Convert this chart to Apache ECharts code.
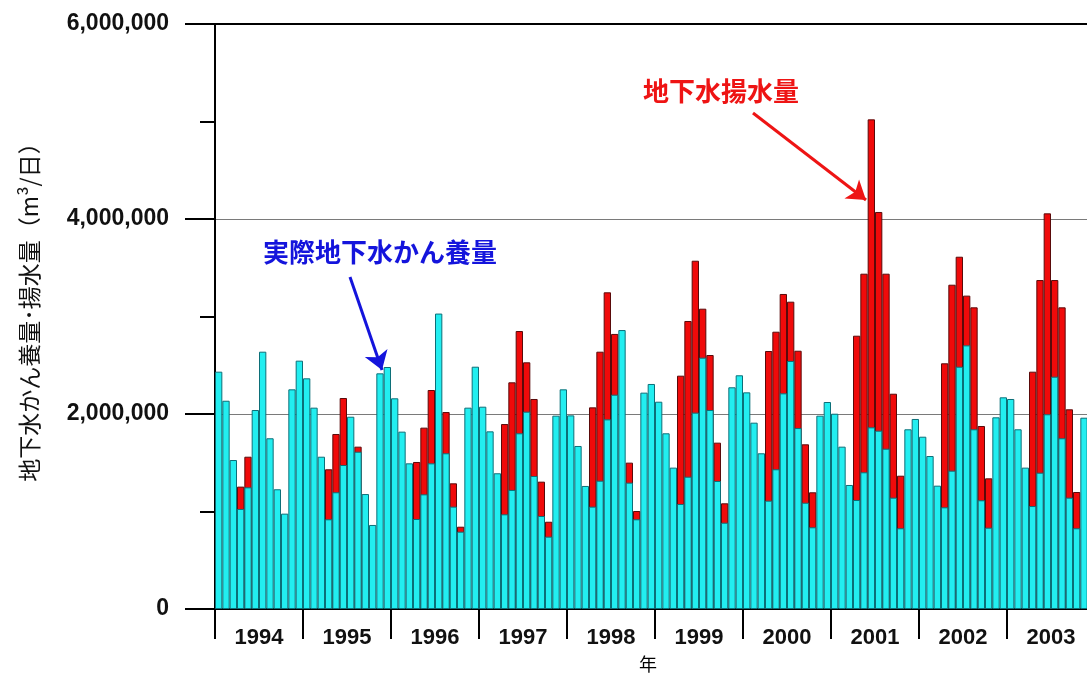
<!DOCTYPE html>
<html>
<head>
<meta charset="utf-8">
<script src="https://cdn.jsdelivr.net/npm/echarts@6/dist/echarts.min.js"></script>
<style>
html, body { margin: 0; padding: 0; background: #fff; overflow: hidden; }
#main { width: 1095px; height: 695px; }
</style>
</head>
<body>
<div id="main"></div>
<script>
var years = ['1994', '1995', '1996', '1997', '1998', '1999', '2000', '2001', '2002', '2003'];

// 実際地下水かん養量 (m3/日), monthly
var recharge = [
    2434000, 2136000, 1528000, 1026000, 1248000, 2041000, 2639000, 1751000, 1228000, 978000, 2253000, 2547000,
    2366000, 2065000, 1562000, 920000, 1197000, 1477000, 1972000, 1613000, 1179000, 862000, 2417000, 2482000,
    2161000, 1819000, 1494000, 923000, 1176000, 1494000, 3030000, 1597000, 1050000, 793000, 2065000, 2485000,
    2075000, 1822000, 1392000, 971000, 1221000, 1802000, 2024000, 1364000, 954000, 742000, 1983000, 2253000,
    1986000, 1672000, 1262000, 1050000, 1316000, 1945000, 2198000, 2861000, 1296000, 920000, 2219000, 2308000,
    2126000, 1802000, 1450000, 1077000, 1357000, 2014000, 2578000, 2041000, 1313000, 885000, 2274000, 2397000,
    2222000, 1911000, 1597000, 1111000, 1433000, 2212000, 2544000, 1856000, 1090000, 838000, 1983000, 2123000,
    2003000, 1665000, 1272000, 1118000, 1402000, 1863000, 1829000, 1644000, 1142000, 828000, 1843000, 1949000,
    1767000, 1569000, 1265000, 1043000, 1419000, 2485000, 2704000, 1843000, 1115000, 834000, 1966000, 2171000,
    2154000, 1843000, 1450000, 1056000, 1398000, 1997000, 2383000, 1751000, 1142000, 828000, 1962000
];

// 地下水揚水量 (m3/日), null where hidden behind the recharge bar
var pumping = [
    null, null, null, 1255000, 1562000, null, null, null, null, null, null, null,
    null, null, null, 1433000, 1795000, 2164000, null, 1665000, null, null, null, null,
    null, null, null, 1508000, 1860000, 2246000, null, 2020000, 1289000, 844000, null, null,
    null, null, null, 1897000, 2325000, 2851000, 2530000, 2154000, 1306000, 895000, null, null,
    null, null, null, 2068000, 2639000, 3248000, 2821000, null, 1501000, 1005000, null, null,
    null, null, null, 2393000, 2954000, 3572000, 3080000, 2605000, 1706000, 1084000, null, null,
    null, null, null, 2646000, 2844000, 3231000, 3152000, 2649000, 1689000, 1197000, null, null,
    null, null, null, 2803000, 3439000, 5022000, 4072000, 3439000, 2208000, 1367000, null, null,
    null, null, null, 2520000, 3326000, 3613000, 3214000, 3094000, 1877000, 1340000, null, null,
    null, null, null, 2434000, 3374000, 4058000, 3374000, 3094000, 2048000, 1200000, null
];

var months = [];
for (var i = 0; i < years.length; i++) {
    for (var m = 1; m <= 12; m++) {
        months.push(years[i] + '-' + m);
    }
}

var numFont = '"Liberation Sans", Arial, sans-serif';
var jpFont = '"Noto Sans CJK JP", sans-serif';

// the div is a little wider than the window so the last bar is cut off like the original
var myChart = echarts.init(document.getElementById('main'));

var option = {
    backgroundColor: '#fff',
    animation: false,
    grid: {
        left: 215,
        right: 0,
        top: 24,
        bottom: 86
    },
    graphic: [{
        type: 'text',
        left: 263,
        top: 239,
        style: {
            text: '実際地下水かん養量',
            fill: '#1414dc',
            font: 'bold 26px ' + jpFont
        }
    }, {
        type: 'text',
        left: 643,
        top: 78,
        style: {
            text: '地下水揚水量',
            fill: '#ee1414',
            font: 'bold 26px ' + jpFont
        }
    }],
    xAxis: [{
        type: 'category',
        data: months,
        show: false
    }, {
        type: 'category',
        data: years,
        position: 'bottom',
        name: '年',
        nameLocation: 'middle',
        nameGap: 46,
        nameMoveOverlap: false,
        nameTextStyle: {
            color: '#000',
            fontSize: 18,
            fontFamily: jpFont,
            padding: [0, 14, 0, 0]
        },
        axisLine: {
            show: true,
            lineStyle: { color: '#000', width: 2 }
        },
        axisTick: {
            show: true,
            interval: 0,
            length: 30,
            lineStyle: { color: '#000', width: 2 }
        },
        axisLabel: {
            show: true,
            interval: 0,
            margin: 18,
            color: '#111',
            fontSize: 22,
            fontWeight: 'bold',
            fontFamily: numFont
        }
    }, {
        type: 'category',
        data: years,
        position: 'top',
        axisLine: {
            show: true,
            lineStyle: { color: '#000', width: 2 }
        },
        axisTick: { show: false },
        axisLabel: { show: false }
    }],
    yAxis: {
        type: 'value',
        min: 0,
        max: 6000000,
        interval: 2000000,
        name: '地下水かん養量･揚水量（m³/日）',
        nameLocation: 'middle',
        nameGap: 174,
        nameMoveOverlap: false,
        nameTextStyle: {
            color: '#111',
            fontSize: 23,
            fontFamily: jpFont,
            padding: [0, 0, 0, 20]
        },
        axisLine: {
            show: true,
            lineStyle: { color: '#000', width: 2 }
        },
        axisTick: {
            show: true,
            length: 30,
            lineStyle: { color: '#000', width: 2 }
        },
        minorTick: {
            show: true,
            splitNumber: 2,
            length: 15,
            lineStyle: { color: '#000', width: 2 }
        },
        splitLine: {
            lineStyle: { color: '#7a7a7a', width: 1 }
        },
        axisLabel: {
            margin: 46,
            color: '#111',
            fontSize: 23,
            fontWeight: 'bold',
            fontFamily: numFont,
            formatter: function (v) {
                return String(v).replace(/\B(?=(\d{3})+(?!\d))/g, ',');
            }
        }
    },
    series: [{
        name: '地下水揚水量',
        type: 'bar',
        xAxisIndex: 0,
        barCategoryGap: '0%',
        barGap: '-100%',
        itemStyle: {
            color: '#f00a0a',
            borderColor: '#5a0a0a',
            borderWidth: 1
        },
        data: pumping,
        markLine: {
            silent: true,
            symbol: ['none', 'arrow'],
            symbolSize: 18,
            label: { show: false },
            lineStyle: { type: 'solid', width: 3, color: '#ee1414' },
            data: [[{ x: 753, y: 113 }, { x: 866, y: 200 }]]
        }
    }, {
        name: '実際地下水かん養量',
        type: 'bar',
        xAxisIndex: 0,
        barCategoryGap: '0%',
        barGap: '-100%',
        itemStyle: {
            color: '#22eef0',
            borderColor: '#0c6f78',
            borderWidth: 1
        },
        data: recharge,
        markLine: {
            silent: true,
            symbol: ['none', 'arrow'],
            symbolSize: 18,
            label: { show: false },
            lineStyle: { type: 'solid', width: 3, color: '#1414dc' },
            data: [[{ x: 350, y: 277 }, { x: 382, y: 370 }]]
        }
    }]
};

myChart.setOption(option);
</script>
</body>
</html>
